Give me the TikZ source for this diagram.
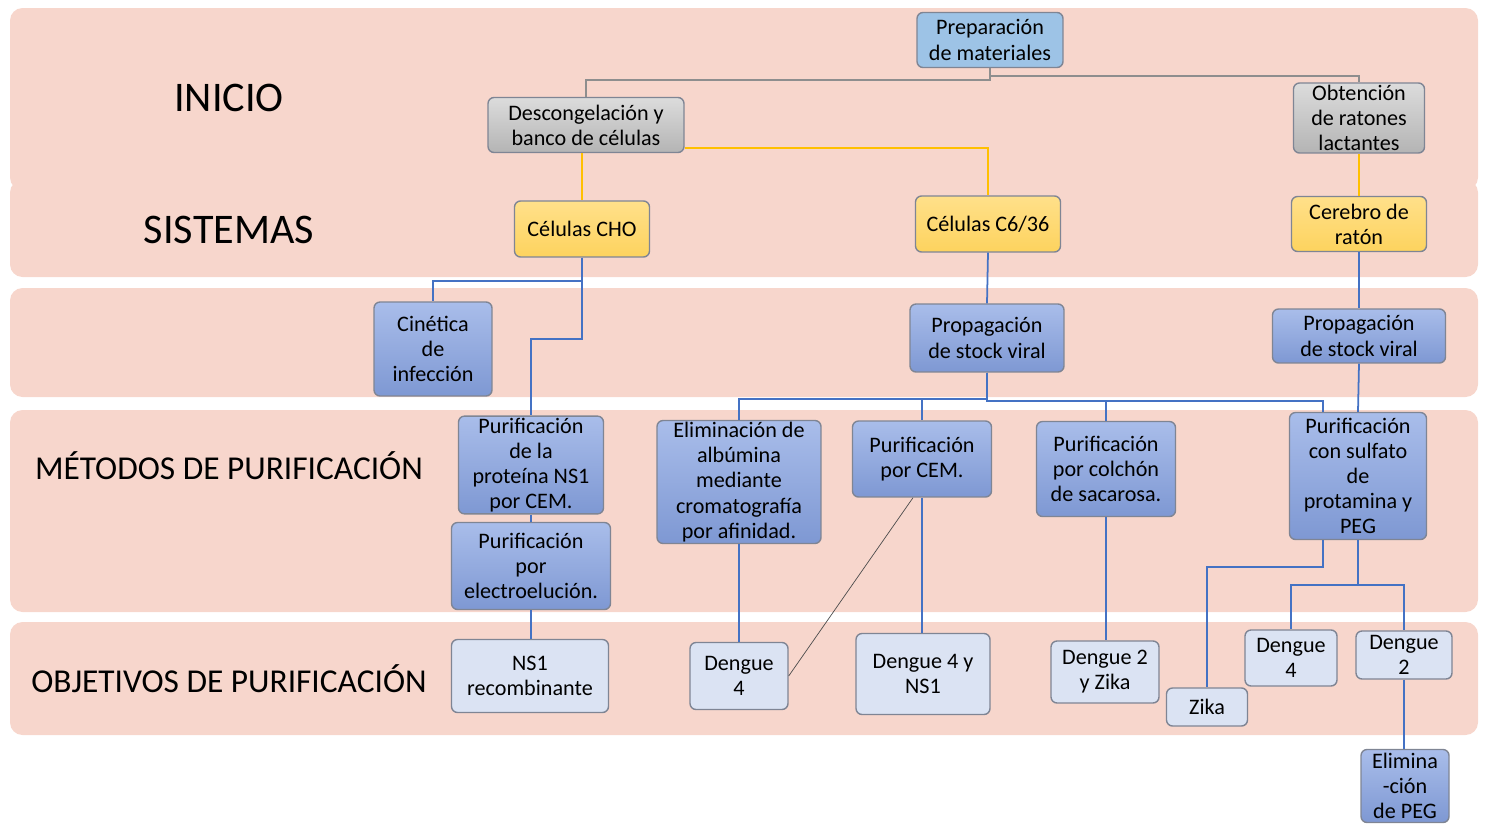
\documentclass[tikz,border=0pt]{standalone}
\usepackage{fontspec}
\setmainfont{Carlito}
\definecolor{bandpink}{HTML}{F7D6CC}
\definecolor{boxline}{HTML}{7F8594}
\definecolor{prepblue}{HTML}{9DC3E6}
\definecolor{bluetop}{HTML}{A9BDEA}
\definecolor{bluebot}{HTML}{7E98D3}
\definecolor{goalblue}{HTML}{DBE3F3}
\definecolor{graytop}{HTML}{DCDCDC}
\definecolor{graybot}{HTML}{B4B4B4}
\definecolor{yellowtop}{HTML}{FFE08A}
\definecolor{yellowbot}{HTML}{FDD35E}
\definecolor{linkblue}{HTML}{4472C4}
\definecolor{linkyellow}{HTML}{FFC000}
\definecolor{linkgray}{HTML}{8E8E8E}
\newcommand{\boxfont}{\fontsize{12.6}{14.3}\selectfont}
\newcommand{\rowfont}[1]{\fontsize{#1}{#1}\selectfont}

\tikzset{
  band/.style={fill=bandpink, rounded corners=0.25cm},
  box/.style={draw=boxline, line width=0.8pt, rounded corners=0.12cm, align=center, inner sep=1pt, font=\boxfont},
  prepbox/.style={box, fill=prepblue},
  graybox/.style={box, top color=graytop, bottom color=graybot},
  yellowbox/.style={box, top color=yellowtop, bottom color=yellowbot},
  bluebox/.style={box, top color=bluetop, bottom color=bluebot},
  goalbox/.style={box, fill=goalblue},
  bline/.style={draw=linkblue, line width=1pt},
  yline/.style={draw=linkyellow, line width=1pt},
  gline/.style={draw=linkgray, line width=1.4pt},
  thinline/.style={draw=black!70, line width=0.4pt}
}

\begin{document}
\begin{tikzpicture}[x=0.02cm, y=-0.02cm]
  \useasboundingbox (0,0) rectangle (1485,825);

  \foreach \ya/\yb in {8/190, 180/277, 288/397, 410/612, 622/735} {
    \fill[band] (10,\ya) rectangle (1478,\yb);
  }

  \node[font=\rowfont{24}] (l-ini) at (229,98) {INICIO};
  \node[font=\rowfont{24}] (l-sis) at (229,230) {SISTEMAS};
  \node[font=\rowfont{19}] (l-met) at (229,466) {MÉTODOS DE PURIFICACIÓN};
  \node[font=\rowfont{19}] (l-obj) at (229,679) {OBJETIVOS DE PURIFICACIÓN};

  \node[prepbox, minimum width=2.92cm, minimum height=1.10cm] (prep) at (990,40) {Preparación\\de materiales};
  \node[graybox, minimum width=3.92cm, minimum height=1.10cm] (desc) at (586,125) {Descongelación y\\banco de células};
  \node[graybox, minimum width=2.62cm, minimum height=1.40cm] (obt) at (1359,118) {Obtención\\de ratones\\lactantes};

  \node[yellowbox, minimum width=2.70cm, minimum height=1.12cm] (cho) at (582,229) {Células CHO};
  \node[yellowbox, minimum width=2.90cm, minimum height=1.12cm] (c636) at (988,224) {Células C6/36};
  \node[yellowbox, minimum width=2.70cm, minimum height=1.10cm] (cer) at (1359,224) {Cerebro de\\ratón};

  \node[bluebox, minimum width=2.36cm, minimum height=1.88cm] (cin) at (433,349) {Cinética\\de\\infección};
  \node[bluebox, minimum width=3.08cm, minimum height=1.36cm] (prop-a) at (987,338) {Propagación\\de stock viral};
  \node[bluebox, minimum width=3.46cm, minimum height=1.08cm] (prop-b) at (1359,336) {Propagación\\de stock viral};

  \node[bluebox, minimum width=2.90cm, minimum height=1.88cm] (pns1) at (531,465) {Purificación\\de la\\proteína NS1\\por CEM.};
  \node[bluebox, minimum width=3.18cm, minimum height=1.74cm] (pelec) at (531,566) {Purificación\\por\\electroelución.};
  \node[bluebox, minimum width=3.28cm, minimum height=2.42cm] (elim) at (739,482) {Eliminación de\\albúmina\\mediante\\cromatografía\\por afinidad.};
  \node[bluebox, minimum width=2.78cm, minimum height=1.52cm] (pcem) at (922,459) {Purificación\\por CEM.};
  \node[bluebox, minimum width=2.78cm, minimum height=1.90cm] (psac) at (1106,469) {Purificación\\por colchón\\de sacarosa.};
  \node[bluebox, minimum width=2.74cm, minimum height=2.54cm] (pprot) at (1358,476) {Purificación\\con sulfato\\de\\protamina y\\PEG};

  \node[goalbox, minimum width=3.14cm, minimum height=1.46cm] (ns1r) at (530,676) {NS1\\recombinante};
  \node[goalbox, minimum width=1.96cm, minimum height=1.34cm] (d4-a) at (739,676) {Dengue\\4};
  \node[goalbox, minimum width=2.68cm, minimum height=1.62cm] (d4ns) at (923,674) {Dengue 4 y\\NS1};
  \node[goalbox, minimum width=2.16cm, minimum height=1.24cm] (d2z) at (1105,672) {Dengue 2\\y Zika};
  \node[goalbox, minimum width=1.62cm, minimum height=0.76cm] (zika) at (1207,707) {Zika};
  \node[goalbox, minimum width=1.84cm, minimum height=1.12cm] (d4-b) at (1291,658) {Dengue\\4};
  \node[goalbox, minimum width=1.92cm, minimum height=0.96cm] (d2-b) at (1404,655) {Dengue\\2};
  \node[bluebox, minimum width=1.76cm, minimum height=1.46cm] (epeg) at (1405,786) {Elimina\\-ción\\de PEG};

  \draw[gline] (prep.south) -- ++(0,12) -| (desc.north);
  \draw[gline] (prep.south) -- ++(0,8) -| (obt.north);

  \draw[yline] (desc.south -| cho.north) -- (cho.north);
  \draw[yline] ([yshift=0.1cm]desc.south east) -| (c636.north);
  \draw[yline] (obt.south) -- (cer.north);

  \draw[bline] (cho.south) -- ++(0,23) -| (cin.north);
  \draw[bline] (cho.south) -- ++(0,81) -| (pns1.north);
  \draw[bline] (c636.south) -- (prop-a.north);
  \draw[bline] (cer.south) -- (prop-b.north);

  \foreach \to in {elim, pcem} {
    \draw[bline] (prop-a.south) -- ++(0,26) -| (\to.north);
  }
  \draw[bline] (prop-a.south) -- ++(0,28) -| (psac.north);
  \draw[bline] (prop-a.south) -- ++(0,28) -| ([xshift=-0.7cm]pprot.north);
  \draw[bline] (prop-b.south) -- (pprot.north);

  \foreach \from/\to in {pns1/pelec, pelec/ns1r, elim/d4-a, pcem/d4ns, psac/d2z, d2-b/epeg} {
    \draw[bline] (\from.south) -- (\to.north -| \from.south);
  }
  \draw[thinline] ([xshift=-0.18cm]pcem.south) -- (d4-a.east);

  \draw[bline] ([xshift=-0.7cm]pprot.south) -- ++(0,27) -| (zika.north);
  \foreach \to in {d4-b, d2-b} {
    \draw[bline] (pprot.south) -- ++(0,45) -| (\to.north);
  }
\end{tikzpicture}
\end{document}
